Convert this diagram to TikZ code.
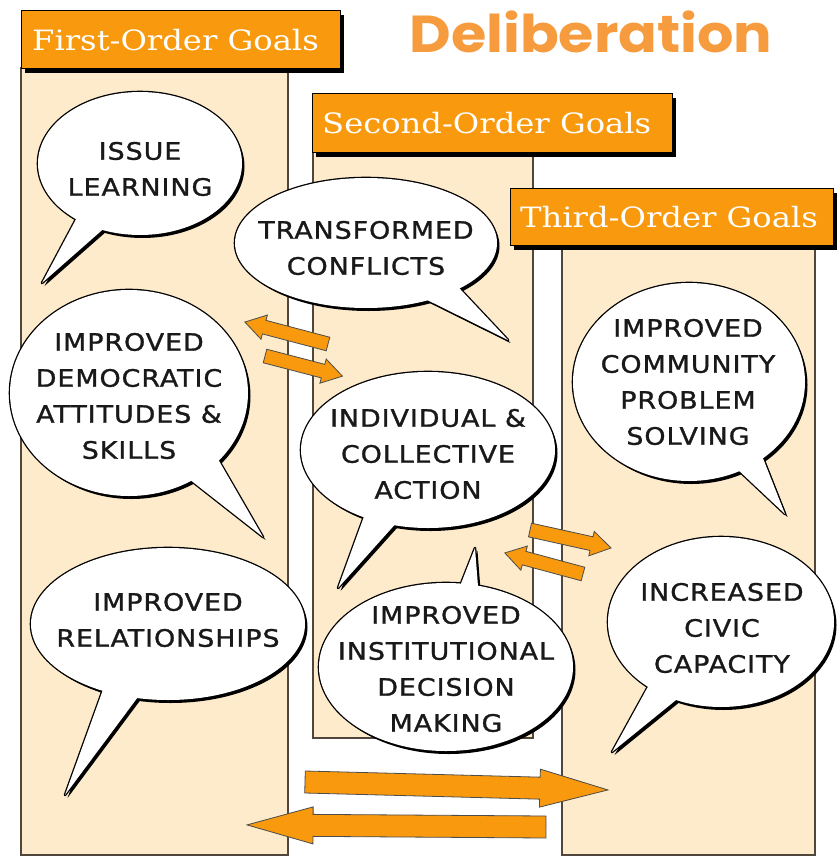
\documentclass[tikz,border=0pt]{standalone}
\usepackage{fontspec}
\usetikzlibrary{shadows}
\newfontfamily\bubblefont{DejaVu Sans}[FakeStretch=1.12,LetterSpace=4,FakeBold=1.2]
\newfontfamily\headfont{DejaVu Serif}[FakeStretch=1.15]
\newfontfamily\titlefont{Poppins}[FakeStretch=1.1]
\definecolor{hdrorange}{RGB}{248,153,14}
\definecolor{titleorange}{RGB}{246,155,62}
\definecolor{cream}{RGB}{253,235,204}
\definecolor{panelline}{RGB}{80,70,60}
\definecolor{inkgray}{RGB}{25,25,25}
\tikzset{
  panelbox/.style={fill=cream, draw=panelline, line width=1.1pt},
  hdrbox/.style={fill=hdrorange, draw=black, line width=1.2pt, anchor=north west, inner sep=0pt,
     general shadow={fill=black, shadow xshift=3pt, shadow yshift=-4pt}},
  hdrtext/.style={text=white, font=\headfont\fontsize{28}{28}\selectfont, anchor=west, inner sep=0pt},
  titletext/.style={text=titleorange, font=\titlefont\bfseries\fontsize{52}{52}\selectfont, inner sep=0pt},
  bshadow/.style={fill=black, shift={(2.5,3)}},
  boutline/.style={draw=black, line width=2.6pt, line join=round},
  btext/.style={text=inkgray, align=center, inner sep=0pt, font=\bubblefont\fontsize{24}{36}\selectfont},
  blockarr/.style={fill=hdrorange, draw=black!70, line width=0.8pt, line join=miter}
}
% #1 centre, #2 x radius, #3 y radius, #4 tail base 1, #5 tail tip, #6 tail base 2
\newcommand\bubble[6]{%
  \fill[bshadow] (#1) ellipse [x radius=#2pt, y radius=#3pt];
  \fill[bshadow] (#4) -- (#5) -- (#6) -- cycle;
  \draw[boutline] (#1) ellipse [x radius=#2pt, y radius=#3pt];
  \draw[boutline] (#4) -- (#5) -- (#6) -- cycle;
  \fill[white] (#1) ellipse [x radius=#2pt, y radius=#3pt];
  \fill[white] (#4) -- (#5) -- (#6) -- cycle;
}
% #1,#2 tail end, #3 angle, #4 length, #5 shaft half width, #6 head half width, #7 head length
\newcommand\blockarrow[7]{%
  \begin{scope}[shift={(#1,#2)}, rotate=#3]
    \draw[blockarr] (0,-#5) -- ({#4-#7},-#5) -- ({#4-#7},-#6) -- (#4,0)
      -- ({#4-#7},#6) -- ({#4-#7},#5) -- (0,#5) -- cycle;
  \end{scope}}
\begin{document}
\begin{tikzpicture}[x=1pt,y=-1pt]
\useasboundingbox (0,0) rectangle (836,856);
\fill[white] (0,0) rectangle (836,856);

% panels and headers
\draw[panelbox] (21,68) rectangle (288,855);
\node[hdrbox, minimum width=319pt, minimum height=58pt] (h1) at (21,10) {};
\node[hdrtext] (h1t) at ([xshift=11pt]h1.west) {First-Order Goals};

\draw[panelbox] (313,152) rectangle (533,738);
\node[hdrbox, minimum width=360pt, minimum height=59pt] (h2) at (312,93) {};
\node[hdrtext] (h2t) at ([xshift=10pt]h2.west) {Second-Order Goals};

\draw[panelbox] (562,245) rectangle (815,855);
\node[hdrbox, minimum width=323pt, minimum height=57pt] (h3) at (510,188) {};
\node[hdrtext] (h3t) at ([xshift=10pt]h3.west) {Third-Order Goals};

\node[titletext] (title) at (591,32) {Deliberation};

% speech bubbles
\bubble{140,163.5}{102}{71.5}{82,208}{42,283}{117,217}
\node[btext] (b1) at (140,169) {ISSUE\\LEARNING};

\bubble{366,243}{131}{65}{409,291}{508,340}{445,273}
\node[btext] (b2) at (366,248) {TRANSFORMED\\CONFLICTS};

\bubble{129,393}{119}{103}{161,457}{263,537}{200,428}
\node[btext] (b3) at (129,396) {IMPROVED\\DEMOCRATIC\\ATTITUDES \&\\SKILLS};

\bubble{428,450}{127}{78}{374,489}{338,588}{416,501}
\node[btext] (b4) at (428,454) {INDIVIDUAL \&\\COLLECTIVE\\ACTION};

\bubble{689,382}{116}{99}{719,452}{785,514}{753,433}
\node[btext] (b5) at (688,382) {IMPROVED\\COMMUNITY\\PROBLEM\\SOLVING};

\bubble{168,624}{137}{76}{118,648}{65,795}{167,658}
\node[btext] (b6) at (168,620) {IMPROVED\\RELATIONSHIPS};

\bubble{446,667}{127}{84}{449,614}{475,548}{480,612}
\node[btext] (b7) at (446,669) {IMPROVED\\INSTITUTIONAL\\DECISION\\MAKING};

\bubble{721,622}{113}{85}{661,663}{612,752}{697,683}
\node[btext] (b8) at (722,628) {INCREASED\\CIVIC\\CAPACITY};

% block arrows
\blockarrow{328}{344}{165.2}{86}{7}{12.5}{20}
\blockarrow{265}{356}{-14.6}{80}{7}{12.5}{20}
\blockarrow{530}{530}{-12.5}{83}{7}{12.5}{20}
\blockarrow{583}{574}{164.9}{81}{7}{12.5}{20}
\blockarrow{305}{782}{-1.5}{303}{11}{19}{68}
\blockarrow{546}{827}{179.6}{299}{11}{18.5}{66}
\end{tikzpicture}
\end{document}
